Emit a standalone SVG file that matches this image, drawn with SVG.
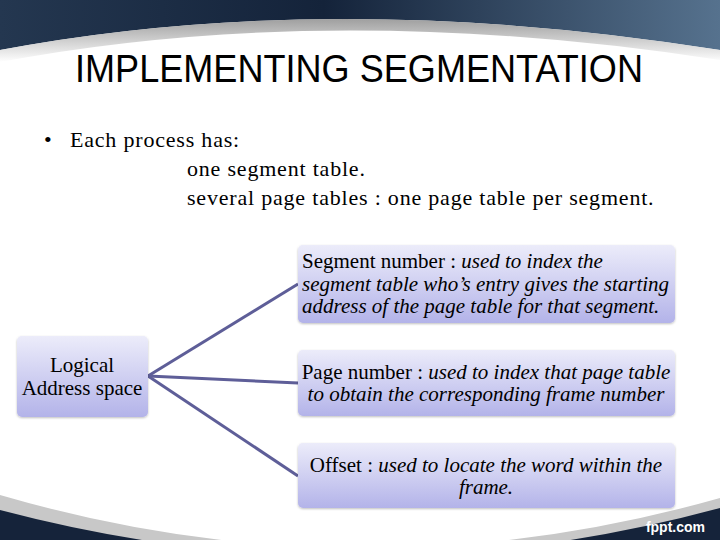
<svg xmlns="http://www.w3.org/2000/svg" width="720" height="540" viewBox="0 0 720 540">
<defs>
<linearGradient id="band" x1="0" y1="0" x2="1" y2="0">
<stop offset="0" stop-color="#243750"/>
<stop offset="0.45" stop-color="#14233a"/>
<stop offset="1" stop-color="#56728e"/>
</linearGradient>
<linearGradient id="box" x1="0" y1="0" x2="0" y2="1">
<stop offset="0" stop-color="#ececfa"/>
<stop offset="1" stop-color="#b3b3e9"/>
</linearGradient>
<linearGradient id="shade" x1="0" y1="0" x2="0" y2="1">
<stop offset="0" stop-color="#8e8e8e"/>
<stop offset="1" stop-color="#ffffff"/>
</linearGradient>
<filter id="sh" x="-5%" y="-5%" width="110%" height="120%">
<feDropShadow dx="0" dy="1" stdDeviation="1" flood-color="#000" flood-opacity="0.25"/>
</filter>
</defs>
<style>
.bx{fill:url(#box);filter:url(#sh)}
.t{font-family:'Liberation Serif','Times New Roman',serif;font-size:21px;fill:#000}
.i{font-style:italic}
.b{font-family:'Liberation Serif','Times New Roman',serif;font-size:22px;letter-spacing:0.8px;fill:#000}
.c{stroke:#5e5e98;stroke-width:3;fill:none}
</style>
<rect width="720" height="540" fill="#ffffff"/>
<g id="background">
<path d="M0 0 H720 V50 Q330 -12 0 50 Z" fill="url(#band)"/>
<path d="M0 50 Q330 -12 720 50 L720 60 Q330 0 0 62 Z" fill="url(#shade)" opacity="0.85"/>
<path d="M0 495 Q360 600 720 498 V540 H0 Z" fill="#c8c8c8"/>
<path d="M0 510 Q360 605 720 508 V540 H0 Z" fill="#15233a"/>
<text x="705" y="532" text-anchor="end" font-family="Liberation Sans, Arial, sans-serif" font-size="14" font-weight="bold" fill="#ffffff">fppt.com</text>
</g>
<text id="title" x="359" y="82" text-anchor="middle" font-family="Liberation Sans, Arial, sans-serif" font-size="38" textLength="568" lengthAdjust="spacingAndGlyphs" fill="#000">IMPLEMENTING SEGMENTATION</text>
<g id="bullets">
<text class="b" x="44" y="147">•</text>
<text class="b" x="70" y="147">Each process has:</text>
<text class="b" x="187" y="176">one segment table.</text>
<text class="b" x="187" y="205">several page tables : one page table per segment.</text>
</g>
<g id="connectors">
<line class="c" x1="148" y1="376" x2="298" y2="284"/>
<line class="c" x1="148" y1="376" x2="298" y2="383"/>
<line class="c" x1="148" y1="376" x2="298" y2="476"/>
</g>
<g id="logical">
<rect class="bx" x="17" y="336" width="131" height="81" rx="5"/>
<text class="t" x="82" y="372" text-anchor="middle">Logical</text>
<text class="t" x="82" y="395" text-anchor="middle">Address space</text>
</g>
<g id="segment">
<rect class="bx" x="298" y="245" width="377" height="78" rx="5"/>
<text class="t" x="302" y="268">Segment number :  <tspan class="i">used to index the</tspan></text>
<text class="t i" x="302" y="291">segment table who’s entry gives the starting</text>
<text class="t i" x="302" y="313">address of the page table for that segment.</text>
</g>
<g id="page">
<rect class="bx" x="298" y="350" width="377" height="66" rx="5"/>
<text class="t" x="486" y="379" text-anchor="middle">Page number : <tspan class="i">used to index that page table</tspan></text>
<text class="t i" x="486" y="401" text-anchor="middle">to obtain the corresponding frame number</text>
</g>
<g id="offset">
<rect class="bx" x="298" y="443" width="377" height="65" rx="5"/>
<text class="t" x="486" y="472" text-anchor="middle">Offset : <tspan class="i">used to locate the word within the</tspan></text>
<text class="t i" x="486" y="494" text-anchor="middle">frame.</text>
</g>
</svg>
